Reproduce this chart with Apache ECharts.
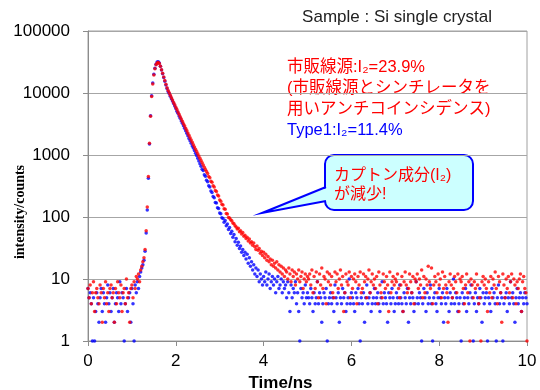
<!DOCTYPE html>
<html>
<head>
<meta charset="utf-8">
<script src="https://cdn.jsdelivr.net/npm/echarts@6/dist/echarts.min.js"></script>
<style>
  html, body { margin: 0; padding: 0; background: #fff; }
  #chart { width: 540px; height: 390px; }
</style>
</head>
<body>
<div id="chart"></div>
<script>
// channel width of the histogram (ns); channel i sits at i * timeStep
var timeStep = 0.025;
var xTicks = [0, 2, 4, 6, 8, 10];

// Type1 counts (blue)
var type1Counts = [
  7,5,6,4,1,5,1,3,6,4, 2,5,7,3,6,4,2,5,8,4, 6,3,5,7,2,4,6,5,3,9, 4,6,5,1,4,7,3,5,6,2, 7,4,1,8,6,
  9,7,11,13,15,17,20,28,55,130,420,1500,4300,9000,14500,20000,25000,29000,31500,32000,
  30500,27000,23500,20500,17800,15500,13500,11800,10600,
  9800,8900,8100,7400,6750,6150,5600,5100,4700,4250,
  3900,3550,3250,2950,2700,2450,2250,2050,1850,1700,
  1550,1400,1300,1180,1070,980,890,800,720,660,
  590,560,480,455,390,372,318,305,262,248,
  214,205,172,168,141,137,116,113,97,
  95,82,88,72,77,63,68,54,59,47, 52,40,45,35,39,31,34,27,30,24,
  27,21,25,18,22,16,19,14,17,12, 15,11,14,9,12,10,8,11,
  9,13,8,10,12,7,9,11,8,10, 6,9,11,7,8,10,6,9,7,8, 5,9,6,3,8,5,7,6,9,4, 6,3,1,7,5,6,4,8,5,6,
  5,4,7,5,3,6,4,5,9,4,6,5,2,4,6,5,7,1,4,5,
  6,4,5,3,8,5,4,6,2,5,4,7,5,6,3,4,5,10,4,6,
  5,4,3,6,5,7,4,1,5,4,6,2,5,8,4,5,6,3,4,5,
  7,4,5,6,4,3,5,9,4,6,5,4,2,6,5,4,7,5,3,4,
  6,5,4,8,5,4,3,6,5,4,7,2,5,4,6,5,3,4,9,5,
  4,6,5,1,4,7,5,3,6,4,5,8,4,1,5,6,4,3,5,7,
  5,4,6,2,5,4,7,5,3,6,4,5,10,4,6,5,3,4,5,1,
  6,4,5,7,3,5,4,6,8,5,1,4,6,3,5,4,7,5,2,6,
  4,5,6,1,5,4,3,7,5,6,4,1,5,8,4,6,5,1,4,5,
  6,3,5,4,9,5,6,4,2,5,7,4,5,6,3,5,4,6,5,4
];

// commercial source counts (red)
var commercialCounts = [
  7,5,8,4,6,9,3,6,7,5, 4,8,6,2,7,5,9,4,6,3, 7,8,5,6,2,7,4,9,6,5, 8,3,6,7,4,10,5,6,2,7, 8,5,9,7,11,
  10,12,9,14,16,19,22,30,60,145,450,1550,4200,8800,14000,19500,24500,28500,30500,31000,
  30000,27000,23800,20800,18200,15900,13900,12200,11000,
  10100,9200,8400,7700,7050,6450,5900,5400,4950,4550,
  4150,3800,3500,3200,2950,2700,2480,2270,2080,1900,
  1750,1600,1470,1350,1240,1140,1050,960,885,815,
  750,690,635,585,540,505,448,428,378,362,
  318,306,268,258,226,218,188,180,160,156,
  136,133,114,112,98,
  96,90,87,80,78,72,69,64,66,58, 60,53,56,49,51,45,47,41,44,38, 40,35,38,33,30,34,29,31,26,28, 24,27,
  22,25,20,23,19,21,17,20,16,18, 15,19,14,17,13,16,12,15,11,14, 13,10,15,12,9,14,11,13,8,12, 10,14,9,11,13,7,10,12,9,11,
  10,12,8,14,6,11,7,13,9,5,12,8,15,7,11,10,4,13,9,12,
  8,11,6,5,13,9,12,7,10,14,8,11,3,6,12,9,8,13,5,11,
  7,10,12,9,4,11,8,13,6,7,12,9,11,5,10,14,6,9,12,8,
  10,7,11,4,13,8,6,5,12,9,7,11,8,3,13,6,9,11,8,10,
  9,12,7,5,8,11,3,9,13,8,6,7,12,9,6,11,4,10,9,12,
  7,10,8,14,5,11,6,10,8,16,9,7,15,4,8,11,9,6,12,8,
  10,5,13,7,11,8,6,2,9,12,8,5,7,11,9,6,12,3,10,9,
  11,7,4,8,12,6,9,1,10,8,5,9,7,12,8,4,5,1,9,11,
  8,10,7,3,9,6,11,5,10,8,13,7,4,11,9,6,2,12,8,5,
  10,7,11,6,9,12,5,10,8,4,9,7,10,12,3,9,11,7,6,1
];

var titleText = "Sample : Si single crystal";
var noteLines = ["市販線源:I₂=23.9%", "(市販線源とシンチレータを", "用いアンチコインシデンス)"];
var type1Note = "Type1:I₂=11.4%";
var calloutLines = ["カプトン成分(I₂)", "が減少!"];

function toPoints(counts) {
  return counts.map(function (v, i) { return [+(i * timeStep).toFixed(3), v]; });
}

var latin = '"Liberation Sans", Arial, sans-serif';
var jp = '"Liberation Sans", "Noto Sans CJK JP", sans-serif';

var chart = echarts.init(document.getElementById("chart"));
var option = {
  animation: false,
  backgroundColor: "#fff",
  grid: {
    left: 88, right: 13, top: 31, bottom: 49,
    containLabel: false, outerBoundsMode: "none",
    show: true, borderColor: "#a0a0a0", borderWidth: 1
  },
  xAxis: {
    type: "value", min: 0, max: 10, interval: 2,
    name: "Time/ns", nameLocation: "middle", nameGap: 33,
    nameTextStyle: { fontFamily: latin, fontSize: 17, fontWeight: "bold", color: "#000", padding: [0, 54, 0, 0] },
    axisLine: { show: true, lineStyle: { color: "#8c8c8c" } },
    axisTick: { show: true, inside: false, length: 5, lineStyle: { color: "#8c8c8c" } },
    axisLabel: { fontFamily: latin, fontSize: 17, color: "#000", margin: 12,
      formatter: function (v) { return xTicks.indexOf(v) >= 0 ? String(v) : ""; } },
    splitLine: { show: false }
  },
  yAxis: {
    type: "log", logBase: 10, min: 1, max: 100000,
    axisLine: { show: true, lineStyle: { color: "#8c8c8c" } },
    axisTick: { show: true, length: 5, lineStyle: { color: "#8c8c8c" } },
    axisLabel: { fontFamily: latin, fontSize: 17, color: "#000", margin: 18,
      formatter: function (v) { return String(Math.round(v)); } },
    splitLine: { show: true, lineStyle: { color: "#a6a6a6", width: 1 } },
    minorTick: { show: false }
  },
  series: [
    {
      name: "Type1", type: "scatter", symbol: "circle", symbolSize: 3.5,
      itemStyle: { color: "#0000ff" },
      data: toPoints(type1Counts)
    },
    {
      name: "市販線源", type: "scatter", symbol: "circle", symbolSize: 3.5,
      itemStyle: { color: "#ff0000" },
      data: toPoints(commercialCounts)
    }
  ],
  graphic: [
    { type: "text", x: 492, y: 17, style: { text: titleText, font: "17px " + latin, fill: "#222", textAlign: "right", textVerticalAlign: "middle" } },
    { type: "text", x: 20, y: 212, rotation: Math.PI / 2,
      style: { text: "intensity/counts", font: 'bold 14px "Liberation Serif", "Times New Roman", serif', fill: "#000", textAlign: "center", textVerticalAlign: "middle" } },
    { type: "text", x: 287, y: 67, style: { text: noteLines[0], font: "16.5px " + jp, fill: "#ff0000", textVerticalAlign: "middle" } },
    { type: "text", x: 287, y: 88, style: { text: noteLines[1], font: "16.5px " + jp, fill: "#ff0000", textVerticalAlign: "middle" } },
    { type: "text", x: 287, y: 109, style: { text: noteLines[2], font: "16.5px " + jp, fill: "#ff0000", textVerticalAlign: "middle" } },
    { type: "text", x: 287, y: 130, style: { text: type1Note, font: "16.5px " + jp, fill: "#0000ff", textVerticalAlign: "middle" } },
    // callout box
    { type: "rect", shape: { x: 325, y: 155, width: 148, height: 55, r: 9 }, style: { fill: "#ccffff", stroke: "#0000ff", lineWidth: 2 } },
    { type: "polygon", shape: { points: [[329, 187], [262, 213], [329, 201]] }, style: { fill: "#ccffff" } },
    { type: "polyline", shape: { points: [[326, 187], [262, 213], [326, 201]] }, style: { stroke: "#0000ff", lineWidth: 2, fill: null } },
    { type: "text", x: 334, y: 176, style: { text: calloutLines[0], font: "16px " + jp, fill: "#ff0000", textVerticalAlign: "middle" } },
    { type: "text", x: 334, y: 195, style: { text: calloutLines[1], font: "16px " + jp, fill: "#ff0000", textVerticalAlign: "middle" } }
  ]
};
chart.setOption(option);
</script>
</body>
</html>
